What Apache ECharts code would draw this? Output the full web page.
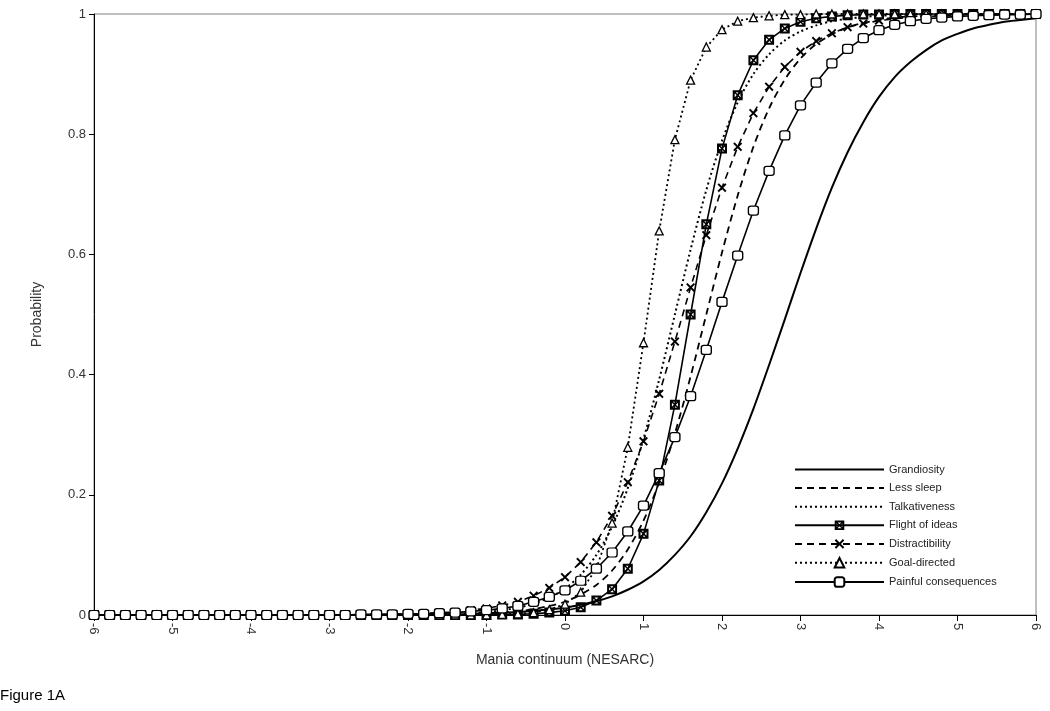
<!DOCTYPE html>
<html>
<head>
<meta charset="utf-8">
<script src="https://cdn.jsdelivr.net/npm/echarts@6/dist/echarts.min.js"></script>
<style>
  html, body { margin: 0; padding: 0; background: #fff; }
  #chart { width: 1050px; height: 711px; }
</style>
</head>
<body>
<div id="chart"></div>
<script>
// theta grid, -6 .. 6 in steps of 0.2
const xs = [
  -6, -5.8, -5.6, -5.4, -5.2, -5, -4.8, -4.6, -4.4, -4.2,
  -4, -3.8, -3.6, -3.4, -3.2, -3, -2.8, -2.6, -2.4, -2.2,
  -2, -1.8, -1.6, -1.4, -1.2, -1, -0.8, -0.6, -0.4, -0.2,
  0, 0.2, 0.4, 0.6, 0.8, 1, 1.2, 1.4, 1.6, 1.8,
  2, 2.2, 2.4, 2.6, 2.8, 3, 3.2, 3.4, 3.6, 3.8,
  4, 4.2, 4.4, 4.6, 4.8, 5, 5.2, 5.4, 5.6, 5.8,
  6
]

const grandiosity = [
  0, 0, 0, 0, 0, 0, 0, 0, 0, 0,
  0, 0, 0, 0, 0, 0, 0, 0, 0, 0,
  0.001, 0.001, 0.001, 0.001, 0.002, 0.003, 0.004, 0.005, 0.007, 0.009,
  0.012, 0.017, 0.023, 0.031, 0.042, 0.056, 0.075, 0.100, 0.131, 0.171,
  0.219, 0.277, 0.343, 0.416, 0.492, 0.569, 0.643, 0.711, 0.770, 0.820,
  0.862, 0.895, 0.920, 0.940, 0.956, 0.967, 0.976, 0.982, 0.987, 0.990,
  0.993
]

const lessSleep = [
  0, 0, 0, 0, 0, 0, 0, 0, 0, 0,
  0, 0, 0, 0, 0, 0, 0, 0, 0, 0,
  0, 0, 0.001, 0.001, 0.002, 0.003, 0.004, 0.006, 0.010, 0.015,
  0.022, 0.034, 0.050, 0.074, 0.109, 0.157, 0.221, 0.302, 0.397, 0.500,
  0.603, 0.698, 0.779, 0.843, 0.891, 0.926, 0.950, 0.966, 0.978, 0.985,
  0.990, 0.994, 0.996, 0.997, 0.998, 0.999, 0.999, 0.999, 1, 1,
  1
]

const talkativeness = [
  0, 0, 0, 0, 0, 0, 0, 0, 0, 0,
  0, 0, 0, 0, 0, 0, 0, 0, 0, 0,
  0.001, 0.001, 0.001, 0.002, 0.003, 0.005, 0.008, 0.012, 0.019, 0.029,
  0.044, 0.067, 0.100, 0.147, 0.211, 0.293, 0.392, 0.500, 0.608, 0.707,
  0.789, 0.853, 0.900, 0.933, 0.956, 0.971, 0.981, 0.988, 0.992, 0.995,
  0.997, 0.998, 0.999, 0.999, 0.999, 1, 1, 1, 1, 1,
  1
]

const flightOfIdeas = [
  0, 0, 0, 0, 0, 0, 0, 0, 0, 0,
  0, 0, 0, 0, 0, 0, 0, 0, 0, 0,
  0, 0, 0, 0, 0, 0, 0.001, 0.001, 0.002, 0.004,
  0.007, 0.013, 0.024, 0.043, 0.077, 0.135, 0.224, 0.350, 0.500, 0.650,
  0.776, 0.865, 0.923, 0.957, 0.976, 0.987, 0.993, 0.996, 0.998, 0.999,
  0.999, 1, 1, 1, 1, 1, 1, 1, 1, 1,
  1
]

const distractibility = [
  0, 0, 0, 0, 0, 0, 0, 0, 0, 0,
  0, 0, 0, 0, 0, 0, 0, 0.001, 0.001, 0.001,
  0.002, 0.003, 0.004, 0.005, 0.008, 0.011, 0.016, 0.022, 0.032, 0.045,
  0.063, 0.088, 0.121, 0.165, 0.221, 0.289, 0.368, 0.455, 0.545, 0.632,
  0.711, 0.779, 0.835, 0.879, 0.912, 0.937, 0.955, 0.968, 0.978, 0.984,
  0.989, 0.992, 0.995, 0.996, 0.997, 0.998, 0.999, 0.999, 0.999, 1,
  1
]

const goalDirected = [
  0, 0, 0, 0, 0, 0, 0, 0, 0, 0,
  0, 0, 0, 0, 0, 0, 0, 0, 0, 0,
  0, 0, 0, 0, 0, 0, 0.001, 0.002, 0.004, 0.009,
  0.018, 0.038, 0.078, 0.153, 0.279, 0.453, 0.639, 0.791, 0.890, 0.945,
  0.974, 0.988, 0.994, 0.997, 0.999, 0.999, 1, 1, 1, 1,
  1, 1, 1, 1, 1, 1, 1, 1, 1, 1,
  1
]

const painful = [
  0, 0, 0, 0, 0, 0, 0, 0, 0, 0,
  0, 0, 0, 0, 0, 0, 0, 0.001, 0.001, 0.001,
  0.002, 0.002, 0.003, 0.004, 0.006, 0.008, 0.011, 0.015, 0.022, 0.030,
  0.041, 0.057, 0.077, 0.104, 0.139, 0.182, 0.236, 0.296, 0.364, 0.441,
  0.521, 0.598, 0.673, 0.739, 0.798, 0.848, 0.886, 0.918, 0.942, 0.960,
  0.973, 0.982, 0.988, 0.992, 0.994, 0.996, 0.997, 0.998, 0.999, 0.999,
  1
]

const yTicks = [0, 0.2, 0.4, 0.6, 0.8, 1]

// marker shapes
const boxCross = 'path://M0,0 L10,0 L10,10 L0,10 Z M2,2 L2,8 L8,8 L8,2 Z M0,1 L1,0 L5,4 L9,0 L10,1 L6,5 L10,9 L9,10 L5,6 L1,10 L0,9 L4,5 Z'
const cross = 'path://M0,1.5 L1.5,0 L5,3.5 L8.5,0 L10,1.5 L6.5,5 L10,8.5 L8.5,10 L5,6.5 L1.5,10 L0,8.5 L3.5,5 Z'

const pairs = vals => xs.map((x, i) => [x, vals[i]])

const chart = echarts.init(document.getElementById('chart'))

function mkSeries(name, vals, lineType, width, symbol, size, fill) {
  return {
    name: name,
    type: 'line',
    data: pairs(vals),
    symbol: symbol || 'circle',
    showSymbol: !!symbol,
    symbolSize: size || 1,
    showAllSymbol: true,
    smooth: symbol ? false : 0.3,
    animation: false,
    lineStyle: { color: '#000', width: width, type: lineType },
    // no-marker series get an invisible legend dot
    itemStyle: symbol
      ? { color: fill || '#000', borderColor: '#000', borderWidth: fill ? 1.3 : 0 }
      : { color: 'rgba(0,0,0,0)', borderWidth: 0 },
    emphasis: { disabled: true },
  }
}

const option = {
  animation: false,
  textStyle: { fontFamily: 'Liberation Sans, Arial, sans-serif' },
  grid: {
    left: 94,
    right: 14,
    top: 14,
    bottom: 96,
    show: true,
    borderColor: '#808080',
    borderWidth: 1,
  },
  legend: {
    orient: 'vertical',
    left: 789,
    top: 459,
    itemWidth: 89,
    itemHeight: 12,
    itemGap: 7.6,
    textStyle: { fontSize: 11, color: '#222' },
    data: ['Grandiosity', 'Less sleep', 'Talkativeness', 'Flight of ideas', 'Distractibility', 'Goal-directed', 'Painful consequences'],
  },
  xAxis: {
    type: 'value',
    min: -6,
    max: 6,
    interval: 1,
    name: 'Mania continuum (NESARC)',
    nameLocation: 'middle',
    nameGap: 38,
    nameTextStyle: { fontSize: 14, color: '#333' },
    axisLine: { onZero: false, lineStyle: { color: '#000', width: 1 } },
    axisTick: { length: 6, lineStyle: { color: '#000' } },
    axisLabel: { rotate: -90, fontSize: 13, color: '#333', margin: 8 },
    splitLine: { show: false },
  },
  yAxis: {
    type: 'value',
    min: 0,
    max: 1,
    interval: 0.2,
    name: 'Probability',
    nameLocation: 'middle',
    nameGap: 50,
    nameTextStyle: { fontSize: 14, color: '#333' },
    axisLine: { show: true, onZero: false, lineStyle: { color: '#000', width: 1 } },
    axisTick: { show: true, length: 5, lineStyle: { color: '#000' } },
    axisLabel: {
      fontSize: 13,
      color: '#333',
      margin: 8,
      formatter: v => (yTicks.some(t => Math.abs(t - v) < 1e-9) ? String(Math.round(v * 10) / 10) : ''),
    },
    splitLine: { show: false },
  },
  graphic: [{
    type: 'text',
    left: 0,
    top: 688,
    style: { text: 'Figure 1A', fontSize: 15, fill: '#000', fontFamily: 'Liberation Sans, Arial, sans-serif' },
  }],
  series: [
    mkSeries('Grandiosity', grandiosity, 'solid', 2),
    mkSeries('Less sleep', lessSleep, [7, 5], 1.8),
    mkSeries('Talkativeness', talkativeness, [2, 3], 2),
    mkSeries('Flight of ideas', flightOfIdeas, 'solid', 1.6, boxCross, 10),
    mkSeries('Distractibility', distractibility, [7, 5], 1.6, cross, 9),
    mkSeries('Goal-directed', goalDirected, [2, 3], 1.8, 'triangle', 8, '#fff'),
    mkSeries('Painful consequences', painful, 'solid', 1.6, 'roundRect', [10, 9], '#fff'),
  ],
}

chart.setOption(option)
</script>
</body>
</html>
